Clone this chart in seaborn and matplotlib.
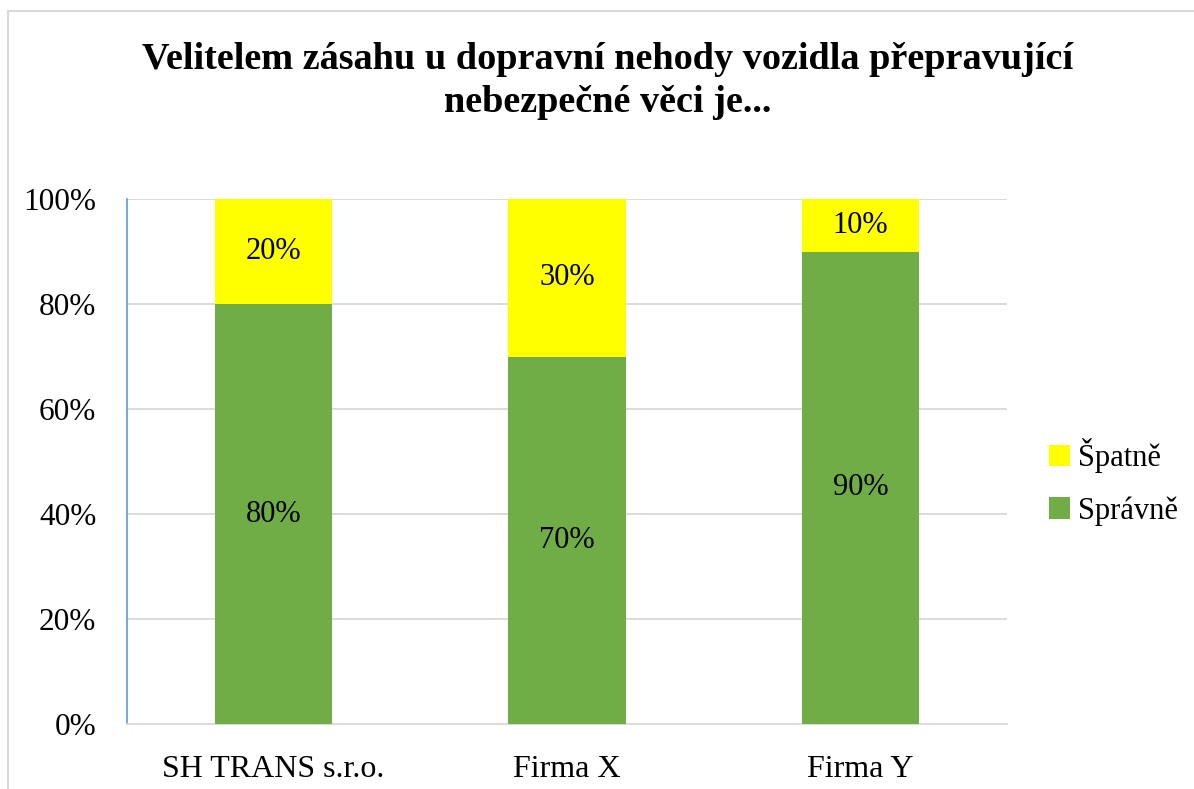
import matplotlib
matplotlib.use("Agg")
import matplotlib.pyplot as plt
import seaborn as sns
import pandas as pd
from matplotlib.patches import Rectangle
from matplotlib.ticker import PercentFormatter

# ── Data ──────────────────────────────────────────────────────
companies = ["SH TRANS s.r.o.", "Firma X", "Firma Y"]
correct = [80, 70, 90]     # Správně
wrong = [20, 30, 10]       # Špatně
title = "Velitelem zásahu u dopravní nehody vozidla přepravující\nnebezpečné věci je..."

GREEN = "#70AD47"
YELLOW = "#FFFF00"

df = pd.DataFrame({"firma": companies, "spravne": correct, "spatne": wrong})
df["celkem"] = df["spravne"] + df["spatne"]

sns.set_style("white")
plt.rcParams["font.family"] = ["Liberation Serif", "DejaVu Serif"]
plt.rcParams["text.color"] = "black"
plt.rcParams["xtick.color"] = "black"
plt.rcParams["ytick.color"] = "black"

fig = plt.figure(figsize=(11.94, 7.89), dpi=100)
ax = fig.add_axes([127 / 1194, 65 / 789, 880 / 1194, 525 / 789])

# chart border (Excel chart area)
fig.patches.append(Rectangle((8 / 1194, -0.05), 1.2, 1 - 11 / 789 + 0.05,
                             transform=fig.transFigure, fill=False,
                             edgecolor="#D9D9D9", linewidth=1.5))

# stacked bars: totals in yellow, correct part over it in green
sns.barplot(data=df, x="firma", y="celkem", color=YELLOW, width=0.4,
            saturation=1, ax=ax, label="Špatně", zorder=2, linewidth=0)
sns.barplot(data=df, x="firma", y="spravne", color=GREEN, width=0.4,
            saturation=1, ax=ax, label="Správně", zorder=3, linewidth=0)
handles, labels = ax.get_legend_handles_labels()
if ax.get_legend() is not None:
    ax.get_legend().remove()

for i, (c, w) in enumerate(zip(correct, wrong)):
    ax.text(i, c / 2, f"{c}%", ha="center", va="center", fontsize=22, zorder=4)
    ax.text(i, c + w / 2, f"{w}%", ha="center", va="center", fontsize=22, zorder=4)

ax.set_ylim(0, 100)
ax.set_xlim(-0.5, 2.5)
ax.set_yticks(range(0, 101, 20))
ax.yaxis.set_major_formatter(PercentFormatter(decimals=0))
ax.grid(axis="y", color="#D9D9D9", linewidth=1.3, zorder=0)
ax.set_axisbelow(True)
ax.set_xlabel("")
ax.set_ylabel("")
ax.tick_params(axis="y", length=0, pad=22, labelsize=22.5)
ax.tick_params(axis="x", length=0, pad=22, labelsize=23)

for s in ["top", "right"]:
    ax.spines[s].set_visible(False)
ax.spines["left"].set_color("#5B9BD5")
ax.spines["left"].set_linewidth(1.2)
ax.spines["bottom"].set_color("#D9D9D9")
ax.spines["bottom"].set_linewidth(1.3)

fig.text(608 / 1194, 1 - 81 / 789, title, ha="center", va="center",
         fontsize=27.5, fontweight="bold", linespacing=1.3)

fig.legend(handles, labels, loc="center left",
           bbox_to_anchor=(1049 / 1194, 1 - 482 / 789), frameon=False,
           fontsize=22, handlelength=0.7, handleheight=0.7,
           handletextpad=0.25, labelspacing=0.75,
           borderpad=0, borderaxespad=0)

fig.savefig("out.png", dpi=100)
